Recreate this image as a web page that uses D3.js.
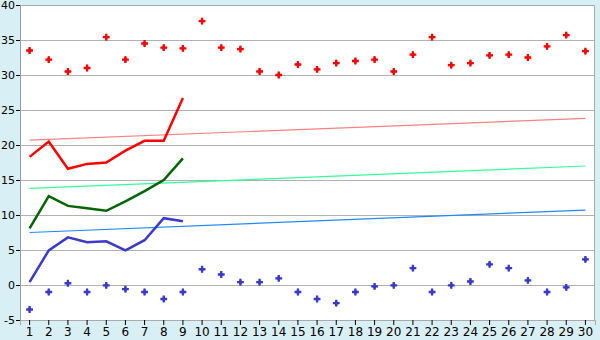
<!DOCTYPE html>
<html>
<head>
<meta charset="utf-8">
<script src="https://cdn.jsdelivr.net/npm/d3@7"></script>
<style>
  body { margin: 0; background: #d9eff6; }
  svg { display: block; }
  .tick text { font-family: "DejaVu Sans", Verdana, sans-serif; font-size: 11px; fill: #000; }
</style>
</head>
<body>
<div id="chart"></div>
<script>
var days = d3.range(1, 31);
var yTicks = [-5, 0, 5, 10, 15, 20, 25, 30, 35, 40];

// scatter series, one value per day
var highPoints = [33.5, 32.2, 30.5, 31.0, 35.4, 32.2, 34.5, 33.9, 33.8, 37.7,
                  33.9, 33.7, 30.5, 30.0, 31.5, 30.8, 31.7, 32.0, 32.2, 30.5,
                  32.9, 35.4, 31.4, 31.7, 32.8, 32.9, 32.5, 34.1, 35.7, 33.4];
var lowPoints = [-3.5, -1.0, 0.25, -1.0, -0.05, -0.6, -1.0, -2.0, -1.0, 2.25,
                 1.5, 0.4, 0.4, 0.95, -1.0, -2.0, -2.6, -1.0, -0.2, -0.05,
                 2.4, -1.0, -0.05, 0.5, 2.95, 2.4, 0.65, -1.0, -0.35, 3.65];

// line series, first 9 days
var redLine   = [18.3, 20.5, 16.6, 17.3, 17.5, 19.2, 20.6, 20.6, 26.7];
var greenLine = [8.1, 12.7, 11.3, 10.95, 10.6, 11.95, 13.4, 15.0, 18.1];
var blueLine  = [0.4, 4.95, 6.8, 6.1, 6.25, 4.95, 6.4, 9.55, 9.1];

// trend lines: value at day 1 and day 30
var redTrend   = [20.7, 23.8];
var greenTrend = [13.8, 17.0];
var blueTrend  = [7.5, 10.7];

var W = 600, H = 340;
var m = {top: 5, right: 5, bottom: 20, left: 20};
var w = W - m.left - m.right, h = H - m.top - m.bottom;

var svg = d3.select('#chart').append('svg')
    .attr('width', W).attr('height', H);

var g = svg.append('g')
    .attr('transform', 'translate(' + m.left + ',' + m.top + ')');

var x = d3.scaleBand().domain(days).range([0, w]);
var y = d3.scaleLinear().domain([-5, 40]).range([h, 0]);
var cx = function(d) { return x(d) + x.bandwidth() / 2; };

g.append('rect')
    .attr('width', w).attr('height', h)
    .attr('fill', '#fff');

// gridlines
g.append('g').selectAll('line').data(yTicks).enter()
    .append('line')
    .attr('x1', 0).attr('x2', w)
    .attr('y1', function(d) { return Math.round(y(d)) + 0.5; })
    .attr('y2', function(d) { return Math.round(y(d)) + 0.5; })
    .attr('stroke', '#b0b0b0');

// frame
g.append('rect')
    .attr('x', 0.5).attr('y', 0.5)
    .attr('width', w - 1).attr('height', h)
    .attr('fill', 'none').attr('stroke', '#aaa');

var yAxis = g.append('g')
    .call(d3.axisLeft(y).tickValues(yTicks).tickSize(4).tickPadding(1)
        .tickFormat(function(d) { return String(d); }));
yAxis.select('.domain').attr('stroke', '#999');
yAxis.selectAll('.tick line').attr('stroke', '#000');

var xAxis = g.append('g')
    .attr('transform', 'translate(0,' + h + ')')
    .call(d3.axisBottom(x).tickSize(5).tickPadding(2));
xAxis.select('.domain').attr('stroke', '#aaa');
xAxis.selectAll('.tick line').attr('stroke', '#000');
xAxis.selectAll('.tick text').style('font-size', '12px');

// trends
[[redTrend, '#ff8080'], [greenTrend, '#33ff99'], [blueTrend, '#2288ff']].forEach(function(t) {
    g.append('line')
        .attr('x1', cx(1)).attr('x2', cx(30))
        .attr('y1', y(t[0][0])).attr('y2', y(t[0][1]))
        .attr('stroke', t[1]).attr('stroke-width', 1.2);
});

var line = d3.line()
    .x(function(d, i) { return cx(days[i]); })
    .y(function(d) { return y(d); });

[[redLine, '#ff0000'], [greenLine, '#006400'], [blueLine, '#3a3acc']].forEach(function(s) {
    g.append('path')
        .datum(s[0])
        .attr('d', line)
        .attr('fill', 'none')
        .attr('stroke', s[1])
        .attr('stroke-width', 2.5);
});

var cross = d3.symbol().type(d3.symbolCross).size(26);
var diamond = d3.symbol().type(d3.symbolDiamond).size(14);

[[highPoints, '#ff0000'], [lowPoints, '#3a3acc']].forEach(function(s) {
    var pts = g.append('g').selectAll('g').data(s[0]).enter()
        .append('g')
        .attr('transform', function(d, i) { return 'translate(' + cx(days[i]) + ',' + y(d) + ')'; })
        .attr('fill', s[1]);
    pts.append('path').attr('d', cross);
    pts.append('path').attr('d', diamond);
});
</script>
</body>
</html>
